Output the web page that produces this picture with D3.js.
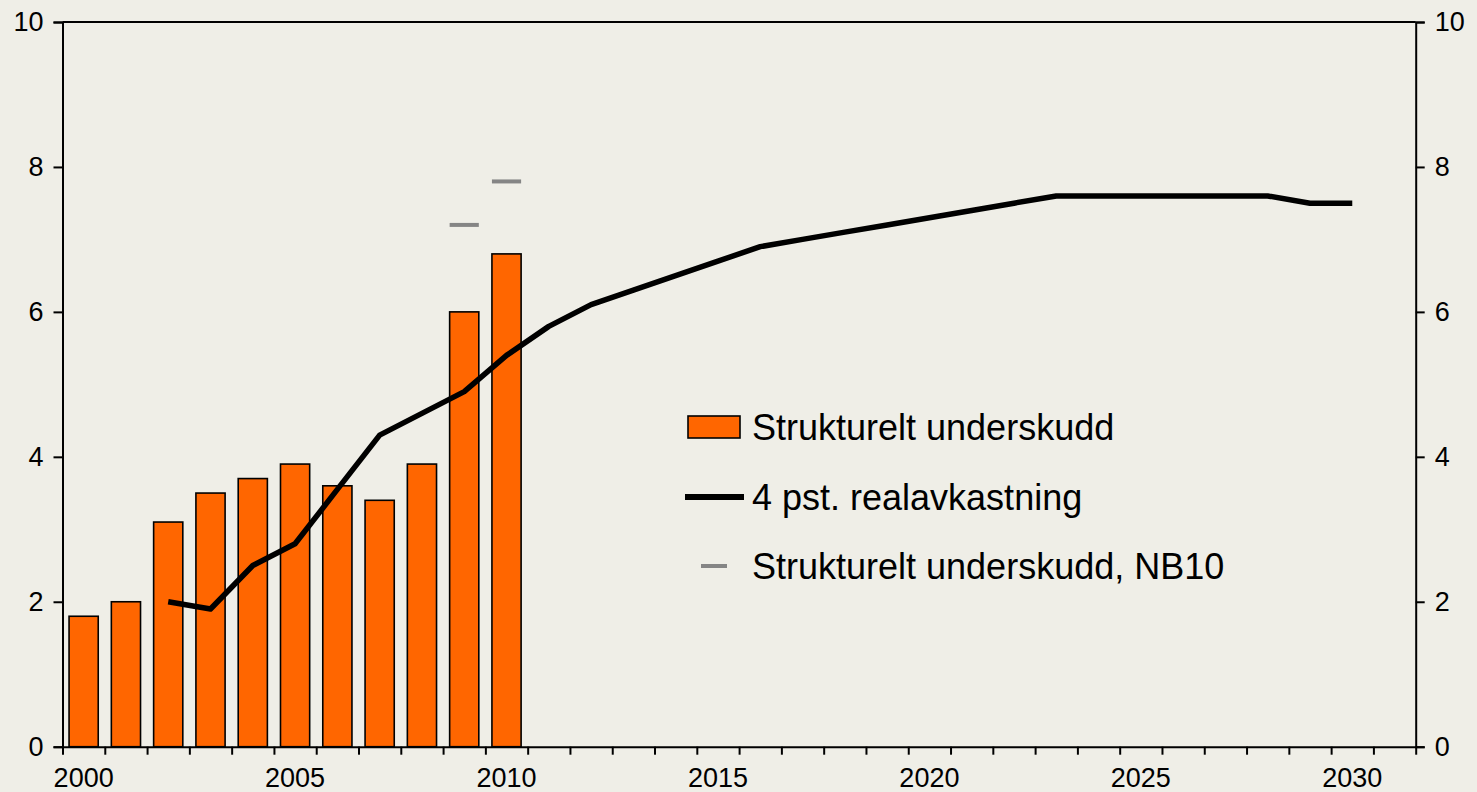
<!DOCTYPE html>
<html>
<head>
<meta charset="utf-8">
<script src="https://cdn.jsdelivr.net/npm/d3@7/dist/d3.min.js"></script>
<style>
  body { margin: 0; background: #efeee7; }
  text { font-family: "Liberation Sans", Arial, sans-serif; fill: #000; }
</style>
</head>
<body>
<div id="chart"></div>
<script>
// categories on the x axis (one band per year)
const years = [2000, 2001, 2002, 2003, 2004, 2005, 2006, 2007, 2008, 2009, 2010,
  2011, 2012, 2013, 2014, 2015, 2016, 2017, 2018, 2019, 2020,
  2021, 2022, 2023, 2024, 2025, 2026, 2027, 2028, 2029, 2030, 2031]
const yearLabels = [2000, 2005, 2010, 2015, 2020, 2025, 2030]
const yTicks = [0, 2, 4, 6, 8, 10]

// Strukturelt underskudd (bars)
const barYears = [2000, 2001, 2002, 2003, 2004, 2005, 2006, 2007, 2008, 2009, 2010]
const barValues = [1.8, 2.0, 3.1, 3.5, 3.7, 3.9, 3.6, 3.4, 3.9, 6.0, 6.8]

// 4 pst. realavkastning (line)
const lineYears = [2002, 2003, 2004, 2005, 2006, 2007, 2008, 2009, 2010, 2011,
  2012, 2013, 2014, 2015, 2016, 2017, 2018, 2019, 2020, 2021,
  2022, 2023, 2024, 2025, 2026, 2027, 2028, 2029, 2030]
const lineValues = [2.0, 1.9, 2.5, 2.8, 3.55, 4.3, 4.6, 4.9, 5.4, 5.8,
  6.1, 6.3, 6.5, 6.7, 6.9, 7.0, 7.1, 7.2, 7.3, 7.4,
  7.5, 7.6, 7.6, 7.6, 7.6, 7.6, 7.6, 7.5, 7.5]

// Strukturelt underskudd, NB10 (markers)
const nbYears = [2009, 2010]
const nbValues = [7.2, 7.8]

const legendLabels = ["Strukturelt underskudd", "4 pst. realavkastning", "Strukturelt underskudd, NB10"]

const
  width = 1477,
  height = 792,
  margin = { top: 22, bottom: 45.3, left: 62.5, right: 61.3 }

const svg = d3
  .select("#chart")
  .append("svg")
  .attr("width", width)
  .attr("height", height)
  .style("background", "#efeee7")

const x = d3
  .scaleBand()
  .domain(years)
  .range([margin.left, width - margin.right])
  .paddingInner(0.31)
  .paddingOuter(0.155)

// boundaries between years, for the tick marks
const xEdge = d3
  .scaleLinear()
  .domain([years[0], years[years.length - 1] + 1])
  .range([margin.left, width - margin.right])

const y = d3
  .scaleLinear()
  .domain([0, 10])
  .range([height - margin.bottom, margin.top])

const fontSize = 27

// top border
svg.append("line")
  .attr("x1", margin.left).attr("x2", width - margin.right)
  .attr("y1", y(10)).attr("y2", y(10))
  .attr("stroke", "#000").attr("stroke-width", 2)

// bars
svg.selectAll("rect.bar")
  .data(barYears)
  .enter()
  .append("rect")
  .attr("class", "bar")
  .attr("x", (d) => x(d))
  .attr("y", (d, i) => y(barValues[i]))
  .attr("width", x.bandwidth())
  .attr("height", (d, i) => y(0) - y(barValues[i]))
  .attr("fill", "#ff6600")
  .attr("stroke", "#000")
  .attr("stroke-width", 1.6)

// NB10 markers
svg.selectAll("line.nb")
  .data(nbYears)
  .enter()
  .append("line")
  .attr("class", "nb")
  .attr("x1", (d) => x(d))
  .attr("x2", (d) => x(d) + x.bandwidth())
  .attr("y1", (d, i) => y(nbValues[i]))
  .attr("y2", (d, i) => y(nbValues[i]))
  .attr("stroke", "#858585")
  .attr("stroke-width", 4)

// line
const line = d3.line()
  .x((d) => x(d) + x.bandwidth() / 2)
  .y((d, i) => y(lineValues[i]))

svg.append("path")
  .datum(lineYears)
  .attr("d", line)
  .attr("fill", "none")
  .attr("stroke", "#000")
  .attr("stroke-width", 5.5)
  .attr("stroke-linejoin", "round")

// left axis
const yAxisL = svg.append("g")
  .attr("transform", `translate(${margin.left},0)`)
  .call(d3.axisLeft(y).tickValues(yTicks).tickSize(9).tickPadding(10))
yAxisL.selectAll("path, line").attr("stroke", "#000").attr("stroke-width", 2)
yAxisL.selectAll("text").style("font-size", fontSize + "px").attr("fill", "#000")

// right axis
const yAxisR = svg.append("g")
  .attr("transform", `translate(${width - margin.right},0)`)
  .call(d3.axisRight(y).tickValues(yTicks).tickSize(9).tickPadding(10))
yAxisR.selectAll("path, line").attr("stroke", "#000").attr("stroke-width", 2)
yAxisR.selectAll("text").style("font-size", fontSize + "px").attr("fill", "#000")

// bottom axis: tick marks between years
const xAxisTicks = svg.append("g")
  .attr("transform", `translate(0,${y(0)})`)
  .call(d3.axisBottom(xEdge)
    .tickValues(years.concat([years[years.length - 1] + 1]))
    .tickSize(8)
    .tickSizeOuter(0)
    .tickFormat(""))
xAxisTicks.selectAll("path, line").attr("stroke", "#000").attr("stroke-width", 2)

// bottom axis: year labels centred on bands
const xAxisLabels = svg.append("g")
  .attr("transform", `translate(0,${y(0)})`)
  .call(d3.axisBottom(x).tickValues(yearLabels).tickSize(0).tickPadding(21))
xAxisLabels.select(".domain").remove()
xAxisLabels.selectAll("text").style("font-size", fontSize + "px").attr("fill", "#000")

// legend
const legend = svg.append("g").attr("transform", "translate(687,0)")
const rowY = [427, 497, 566]

legend.append("rect")
  .attr("x", 1).attr("y", rowY[0] - 11)
  .attr("width", 52).attr("height", 22)
  .attr("fill", "#ff6600").attr("stroke", "#000").attr("stroke-width", 1.6)

legend.append("line")
  .attr("x1", -2).attr("x2", 57)
  .attr("y1", rowY[1]).attr("y2", rowY[1])
  .attr("stroke", "#000").attr("stroke-width", 6)

legend.append("line")
  .attr("x1", 14).attr("x2", 40)
  .attr("y1", rowY[2]).attr("y2", rowY[2])
  .attr("stroke", "#858585").attr("stroke-width", 4)

legend.selectAll("text")
  .data(legendLabels)
  .enter()
  .append("text")
  .attr("x", 65)
  .attr("y", (d, i) => rowY[i] + 13)
  .style("font-size", "36px")
  .text((d) => d)
</script>
</body>
</html>
